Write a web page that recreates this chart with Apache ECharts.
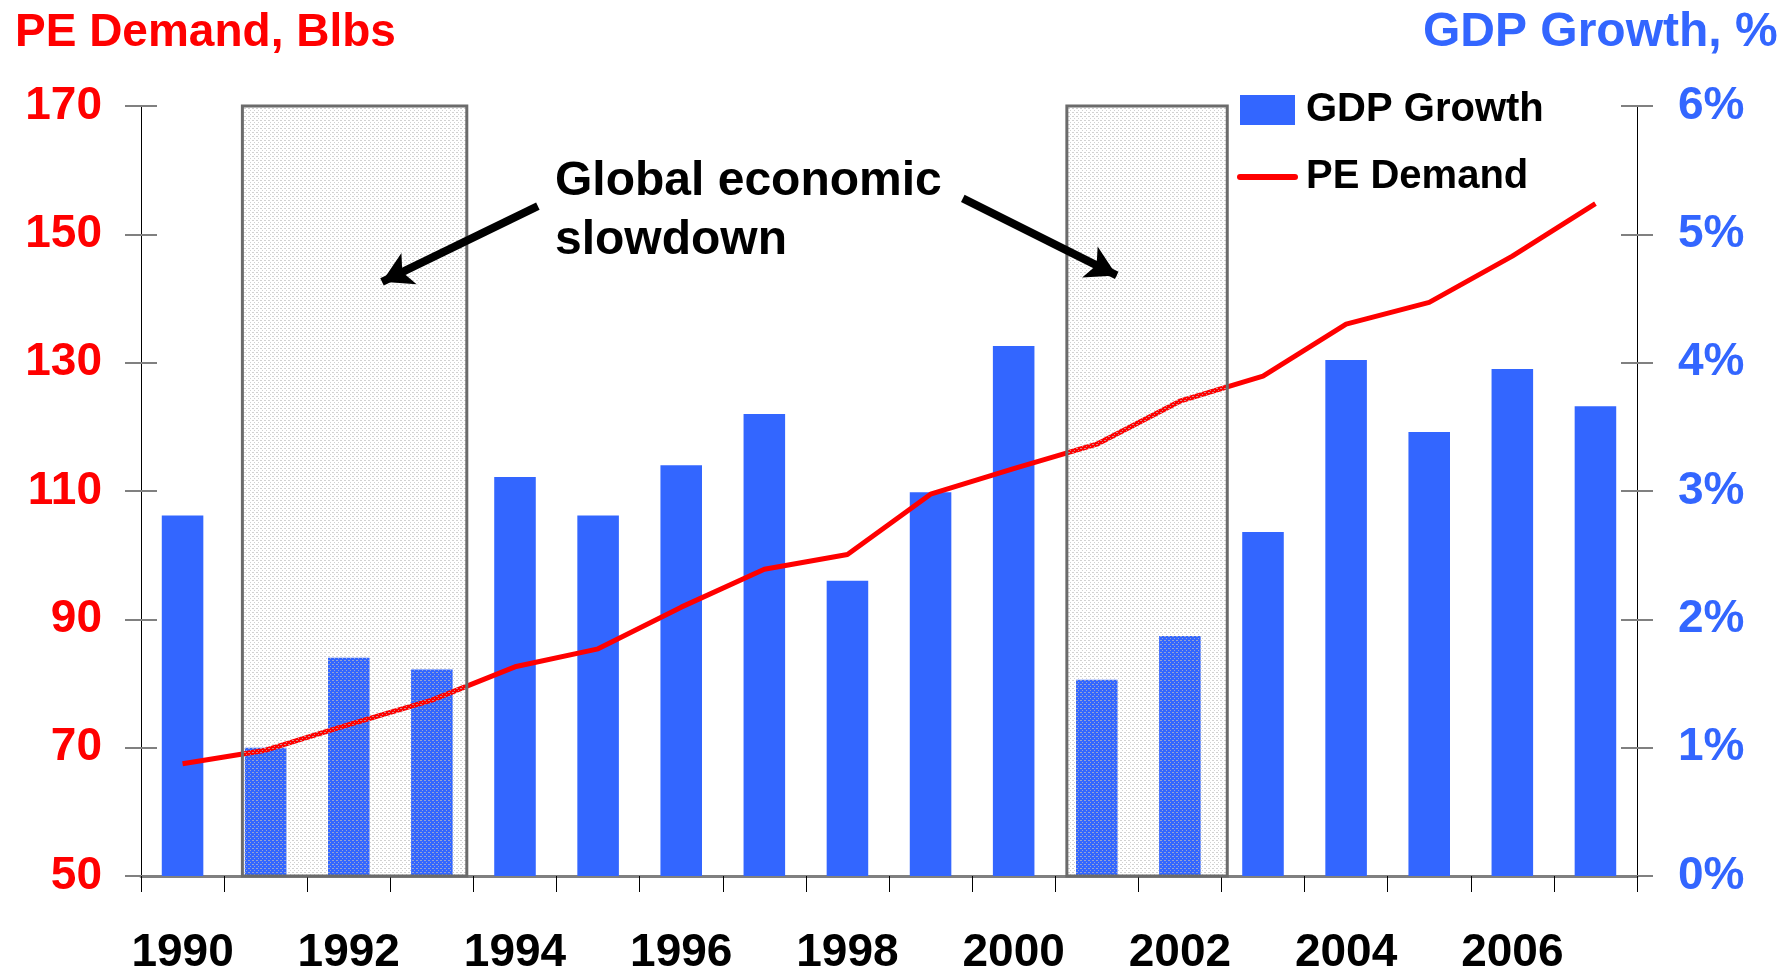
<!DOCTYPE html>
<html>
<head>
<meta charset="utf-8">
<script src="https://cdn.jsdelivr.net/npm/echarts@6/dist/echarts.min.js"></script>
<style>
html,body{margin:0;padding:0;background:#fff;}
#chart{width:1777px;height:970px;}
</style>
</head>
<body>
<div id="chart"></div>
<script>
// ---- data ----
const years = ['1990','1991','1992','1993','1994','1995','1996','1997','1998','1999','2000','2001','2002','2003','2004','2005','2006','2007'];
const gdpGrowth = [2.81, 1.0, 1.70, 1.61, 3.11, 2.81, 3.2, 3.6, 2.3, 2.99, 4.13, 1.53, 1.87, 2.68, 4.02, 3.46, 3.95, 3.66];
const peDemand = [67.5, 69.6, 73.6, 77.4, 82.6, 85.4, 91.9, 97.8, 100.1, 109.5, 113.5, 117.3, 124.0, 127.9, 136.0, 139.4, 146.6, 154.8];
// slowdown periods, in category units [start, end] and PE-axis range
const slowdownBoxes = [[1.22, 3.92, 50, 170], [11.14, 13.07, 50, 170]];
// arrows: [fromX, fromY, toX, toY] in category units / PE-axis units
const arrows = [[4.775, 154.4, 2.9, 142.6], [9.888, 155.6, 11.74, 143.6]];
const annotation = 'Global economic\nslowdown';

const FONT = '"Liberation Sans", Arial, sans-serif';
const BLUE = '#3366FF';
const RED = '#FF0000';

// dotted pattern for slowdown boxes
const pat = document.createElement('canvas');
pat.width = 4; pat.height = 4;
const pctx = pat.getContext('2d');
pctx.fillStyle = 'rgba(190,190,190,0.7)';
pctx.fillRect(0, 0, 2, 1);
pctx.fillRect(2, 2, 1, 1);

const chart = echarts.init(document.getElementById('chart'), null, {renderer: 'canvas'});

const option = {
  animation: false,
  backgroundColor: '#fff',
  textStyle: {fontFamily: FONT},
  title: [
    {text: 'PE Demand, Blbs', left: 10, top: 5, textStyle: {color: RED, fontSize: 46, fontWeight: 'bold', fontFamily: FONT}},
    {text: 'GDP Growth, %', left: 1418, top: 4, textStyle: {color: BLUE, fontSize: 48, fontWeight: 'bold', fontFamily: FONT}}
  ],
  legend: {
    orient: 'vertical',
    left: 1232, top: 85,
    itemWidth: 55, itemHeight: 30, itemGap: 27,
    textStyle: {fontSize: 40, fontWeight: 'bold', color: '#000', fontFamily: FONT, lineHeight: 40, padding: [0, 0, 0, 6]},
    data: [
      {name: 'GDP Growth', icon: 'rect'},
      {name: 'PE Demand', itemStyle: {color: 'rgba(0,0,0,0)', opacity: 0, borderWidth: 0},
       lineStyle: {color: RED, width: 6, cap: 'round'}}
    ]
  },
  grid: {left: 141, right: 140, top: 106, bottom: 94, containLabel: false, outerBoundsMode: 'none'},
  xAxis: [
    {
      type: 'category', data: years, boundaryGap: true,
      axisLine: {show: true, lineStyle: {color: '#808080', width: 3}},
      axisTick: {show: true, interval: 0, length: 16, lineStyle: {color: '#000', width: 1}},
      axisLabel: {interval: 1, margin: 54, fontSize: 46, fontWeight: 'bold', color: '#000', fontFamily: FONT},
      splitLine: {show: false}
    },
    {type: 'value', min: 0, max: 18, show: false}
  ],
  yAxis: [
    {
      type: 'value', position: 'left', min: 50, max: 170, interval: 20,
      axisLine: {show: true, lineStyle: {color: '#000', width: 1}},
      axisTick: {show: true, length: 16, lineStyle: {color: '#808080', width: 2}},
      axisLabel: {margin: 39, fontSize: 46, fontWeight: 'bold', color: RED, fontFamily: FONT, padding: [5, 0, 0, 0]},
      splitLine: {show: false}
    },
    {
      type: 'value', position: 'right', min: 0, max: 6, interval: 1,
      axisLine: {show: true, lineStyle: {color: '#000', width: 1}},
      axisTick: {show: true, length: 16, lineStyle: {color: '#808080', width: 2}},
      axisLabel: {margin: 41, fontSize: 46, fontWeight: 'bold', color: BLUE, fontFamily: FONT, formatter: '{value}%', padding: [5, 0, 0, 0]},
      splitLine: {show: false}
    },
    {
      type: 'value', position: 'left', offset: 0, min: 50, max: 170, interval: 20,
      axisLine: {show: false},
      axisTick: {show: true, inside: true, length: 16, lineStyle: {color: '#808080', width: 2}},
      axisLabel: {show: false}, splitLine: {show: false}
    },
    {
      type: 'value', position: 'right', offset: 0, min: 0, max: 6, interval: 1,
      axisLine: {show: false},
      axisTick: {show: true, inside: true, length: 16, lineStyle: {color: '#808080', width: 2}},
      axisLabel: {show: false}, splitLine: {show: false}
    }
  ],
  graphic: [
    {type: 'text', left: 555, top: 152, z: 100,
     style: {text: annotation, font: 'bold 48px ' + FONT, fill: '#000', lineHeight: 59}}
  ],
  series: [
    {
      name: 'GDP Growth', type: 'bar', xAxisIndex: 0, yAxisIndex: 1,
      data: gdpGrowth, barWidth: '50%', z: 2,
      itemStyle: {color: BLUE}
    },
    {
      name: 'PE Demand', type: 'line', xAxisIndex: 0, yAxisIndex: 0,
      data: peDemand, symbol: 'none', smooth: false, z: 3,
      lineStyle: {color: RED, width: 5},
      itemStyle: {color: RED}
    },
    {
      name: 'boxes', type: 'custom', xAxisIndex: 1, yAxisIndex: 0, z: 10,
      data: slowdownBoxes,
      encode: {x: [0, 1], y: [2, 3]},
      silent: true,
      renderItem: function (params, api) {
        const p0 = api.coord([api.value(0), api.value(3)]);
        const p1 = api.coord([api.value(1), api.value(2)]);
        return {
          type: 'rect',
          shape: {x: p0[0], y: p0[1], width: p1[0] - p0[0], height: p1[1] - p0[1]},
          style: {fill: {image: pat, repeat: 'repeat'}, stroke: '#6b6b6b', lineWidth: 3}
        };
      },
      markLine: {
        silent: true, z: 20,
        symbol: ['none', 'arrow'], symbolSize: [26, 30],
        label: {show: false},
        lineStyle: {color: '#000', width: 8, type: 'solid'},
        data: arrows.map(a => [{coord: [a[0], a[1]]}, {coord: [a[2], a[3]]}])
      }
    }
  ]
};
chart.setOption(option);
</script>
</body>
</html>
